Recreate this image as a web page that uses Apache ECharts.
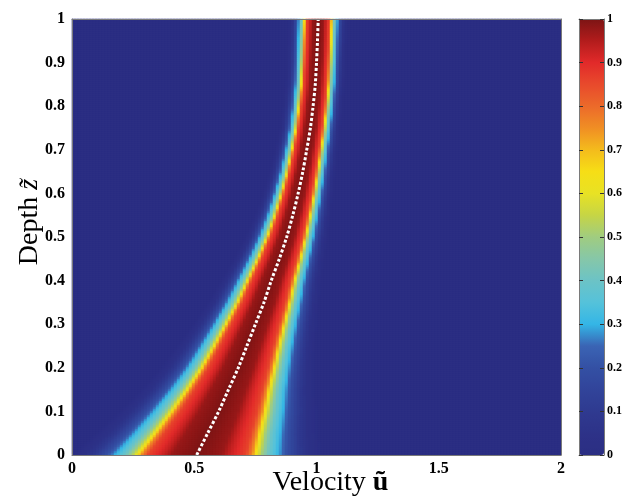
<!DOCTYPE html>
<html><head><meta charset="utf-8">
<script src="https://cdn.jsdelivr.net/npm/echarts@6/dist/echarts.min.js"></script>
<style>html,body{margin:0;padding:0;background:#fff}#c{width:635px;height:498px}</style>
</head><body><div id="c"></div>
<script>
// Depth levels (z) and the read centre / half-width (distance to the cyan ~0.3 level) of the ridge
const depthLevels    = [0, 0.05, 0.1, 0.15, 0.2, 0.25, 0.3, 0.35, 0.4, 0.45, 0.5, 0.55, 0.6, 0.65, 0.7, 0.75, 0.8, 0.85, 0.9, 0.95, 1];
const centerVelocity = [0.51, 0.555, 0.6, 0.64, 0.68, 0.715, 0.75, 0.785, 0.815, 0.848, 0.878, 0.903, 0.925, 0.944, 0.96, 0.975, 0.986, 0.995, 1.0, 1.004, 1.007];
const halfWidth      = [0.335, 0.297, 0.264, 0.232, 0.205, 0.184, 0.165, 0.148, 0.133, 0.12, 0.109, 0.1, 0.093, 0.087, 0.083, 0.08, 0.079, 0.078, 0.078, 0.078, 0.078];
// Cross-section: normalised offset from the centre -> value
const profileOffset  = [0, 0.3, 0.4, 0.6, 0.68, 0.73, 0.8, 0.88, 1.0, 1.1, 1.25, 1.4, 1.55];
const profileValue   = [1, 0.975, 0.93, 0.86, 0.75, 0.62, 0.5, 0.4, 0.3, 0.2, 0.1, 0.03, 0];
// Tick values
const velocityTicks  = [0, 0.5, 1, 1.5, 2];
const depthTicks     = [0, 0.1, 0.2, 0.3, 0.4, 0.5, 0.6, 0.7, 0.8, 0.9, 1];
const colorbarTicks  = [0, 0.1, 0.2, 0.3, 0.4, 0.5, 0.6, 0.7, 0.8, 0.9, 1];
// Colour map (0 -> 1 in steps of 0.05)
const colorStops = ['#2b2e83','#2d3288','#2f3a90','#31449a','#3450a4','#3a64b4','#34b6e6','#55c2da','#6cc3c6','#86c7a8','#a0cc80','#c6d545','#e8e224','#f6de16','#f4bb1c','#f08e24','#ec6a2a','#e84a2c','#e22a2a','#b21c1c','#7c1414'];

const NX = 163, NY = 218;
const uMin = velocityTicks[0], uMax = velocityTicks[velocityTicks.length - 1];
const zMin = depthTicks[0], zMax = depthTicks[depthTicks.length - 1];

function interp(xs, ys, x) {
  if (x <= xs[0]) return ys[0];
  for (let k = 1; k < xs.length; k++) {
    if (x <= xs[k]) {
      const f = (x - xs[k - 1]) / (xs[k] - xs[k - 1]);
      return ys[k - 1] + f * (ys[k] - ys[k - 1]);
    }
  }
  return ys[ys.length - 1];
}

const xCats = [], yCats = [];
for (let i = 0; i < NX; i++) xCats.push(i);
for (let j = 0; j < NY; j++) yCats.push(j);
const cells = [];
for (let j = 0; j < NY; j++) {
  const z = zMin + (j + 0.5) * (zMax - zMin) / NY;
  const c = interp(depthLevels, centerVelocity, z);
  const w = interp(depthLevels, halfWidth, z);
  for (let i = 0; i < NX; i++) {
    const u = uMin + (i + 0.5) * (uMax - uMin) / NX;
    const t = Math.abs(u - c) / w;
    cells.push([i, j, interp(profileOffset, profileValue, t)]);
  }
}
const ridge = depthLevels.map((z, k) => [centerVelocity[k], z]);

const serif = 'Liberation Serif';
const frame = {show: true, onZero: false, lineStyle: {color: '#7a7a7a', width: 1}};
const tickLbl = {color: '#000', fontFamily: serif, fontWeight: 'bold', fontSize: 16};
const NAME_SIZE = 28;

const chart = echarts.init(document.getElementById('c'), null, {renderer: 'canvas'});
chart.setOption({
  animation: false,
  backgroundColor: '#fff',
  grid: [
    {left: 72, top: 19, width: 489, height: 436, containLabel: false, outerBoundsMode: 'none'},
    {left: 579, top: 19, width: 25, height: 436, containLabel: false, outerBoundsMode: 'none'}
  ],
  visualMap: {
    type: 'continuous', min: 0, max: 1, seriesIndex: 0, calculable: false, hoverLink: false,
    left: 579, top: 19, itemWidth: 25, itemHeight: 436, padding: 0, text: null, show: true,
    inRange: {color: colorStops}
  },
  xAxis: [
    {type: 'category', gridIndex: 0, data: xCats, show: false, position: 'bottom'},
    {type: 'value', gridIndex: 0, position: 'bottom', min: uMin, max: uMax, interval: 0.5, z: 10,
     axisLine: frame, axisTick: {show: false}, splitLine: {show: false},
     axisLabel: Object.assign({margin: 6}, tickLbl),
     name: '{a|Velocity }{b|\u0169}', nameLocation: 'middle', nameGap: 14, nameMoveOverlap: false,
     nameTextStyle: {color: '#000', fontFamily: serif, fontSize: NAME_SIZE, padding: [0, 0, 0, 28],
       rich: {a: {color: '#000', fontFamily: serif, fontSize: NAME_SIZE},
              b: {color: '#000', fontFamily: serif, fontSize: NAME_SIZE, fontWeight: 'bold'}}}},
    {type: 'value', gridIndex: 0, position: 'top', min: uMin, max: uMax, z: 10,
     axisLine: frame, axisTick: {show: false}, axisLabel: {show: false}, splitLine: {show: false}},
    {type: 'value', gridIndex: 1, position: 'bottom', min: 0, max: 1, z: 10,
     axisLine: frame, axisTick: {show: false}, axisLabel: {show: false}, splitLine: {show: false}},
    {type: 'value', gridIndex: 1, position: 'top', min: 0, max: 1, z: 10,
     axisLine: frame, axisTick: {show: false}, axisLabel: {show: false}, splitLine: {show: false}}
  ],
  yAxis: [
    {type: 'category', gridIndex: 0, data: yCats, show: false, position: 'left'},
    {type: 'value', gridIndex: 0, position: 'left', min: zMin, max: zMax, interval: 0.1, z: 10,
     axisLine: frame, axisTick: {show: false}, splitLine: {show: false},
     axisLabel: Object.assign({margin: 7}, tickLbl),
     name: '{a|Depth }{b|z\u0303}', nameLocation: 'middle', nameGap: 28, nameRotate: 90, nameMoveOverlap: false,
     nameTextStyle: {color: '#000', fontFamily: serif, fontSize: NAME_SIZE, padding: [0, 0, 0, 30],
       rich: {a: {color: '#000', fontFamily: serif, fontSize: NAME_SIZE},
              b: {color: '#000', fontFamily: serif, fontSize: NAME_SIZE, fontStyle: 'italic'}}}},
    {type: 'value', gridIndex: 0, position: 'right', min: zMin, max: zMax, z: 10,
     axisLine: frame, axisTick: {show: false}, axisLabel: {show: false}, splitLine: {show: false}},
    {type: 'value', gridIndex: 1, position: 'left', min: colorbarTicks[0], max: colorbarTicks[colorbarTicks.length - 1], interval: 0.1, z: 10,
     axisLine: frame, axisTick: {show: true, inside: true, length: 4, lineStyle: {color: '#333'}},
     axisLabel: {show: false}, splitLine: {show: false}},
    {type: 'value', gridIndex: 1, position: 'right', min: colorbarTicks[0], max: colorbarTicks[colorbarTicks.length - 1], interval: 0.1, z: 10,
     axisLine: frame, axisTick: {show: true, inside: true, length: 4, lineStyle: {color: '#333'}},
     axisLabel: {color: '#000', fontFamily: serif, fontWeight: 'bold', fontSize: 12, margin: 3},
     splitLine: {show: false}}
  ],
  series: [
    {type: 'heatmap', xAxisIndex: 0, yAxisIndex: 0, data: cells, progressive: 0,
     emphasis: {disabled: true}, itemStyle: {borderWidth: 0}},
    {type: 'line', xAxisIndex: 1, yAxisIndex: 1, data: ridge, smooth: 0.3, showSymbol: false, z: 5,
     lineStyle: {color: '#ffffff', width: 3, type: [3, 2], cap: 'butt'}}
  ]
});
</script></body></html>
